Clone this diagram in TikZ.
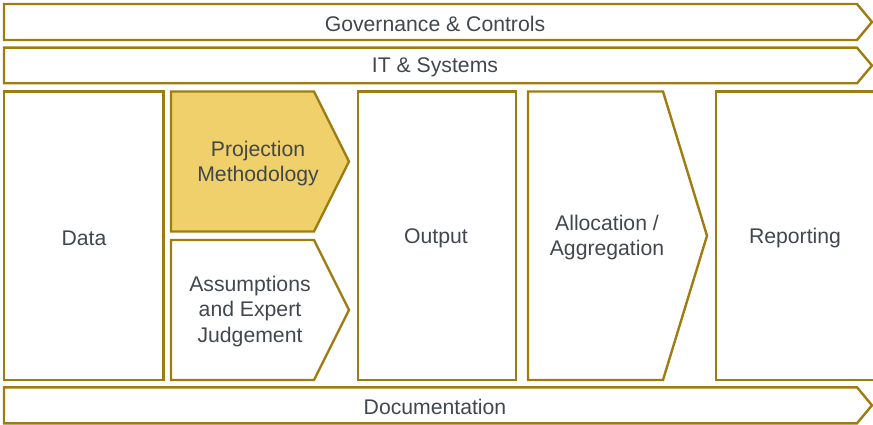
\documentclass[tikz,border=0pt]{standalone}
\usepackage{fontspec}
\setmainfont{Liberation Sans}
\definecolor{gold}{HTML}{9E7C12}
\definecolor{goldfill}{HTML}{F0D06B}
\definecolor{txt}{HTML}{41474D}
\begin{document}
\begin{tikzpicture}[x=1pt,y=1pt,
  box/.style={draw=gold,line width=2.4pt,line join=miter},
  lbl/.style={text=txt,font=\fontsize{21.2}{25.5}\selectfont,align=center,inner sep=0pt}]
\useasboundingbox (0,0) rectangle (873,-425);
% bars
\draw[box] (4,-4) -- (857,-4) -- (872,-22) -- (857,-40) -- (4,-40) -- cycle;
\draw[box] (4,-47.7) -- (857,-47.7) -- (872,-65.5) -- (857,-83.3) -- (4,-83.3) -- cycle;
\draw[box] (4,-387.3) -- (857,-387.3) -- (872,-405.3) -- (857,-423.3) -- (4,-423.3) -- cycle;
% columns
\draw[box] (4,-91.5) rectangle (163.5,-380);
\draw[box,fill=goldfill] (171,-91.5) -- (314,-91.5) -- (349,-161.5) -- (314,-231.5) -- (171,-231.5) -- cycle;
\draw[box] (171,-240) -- (314,-240) -- (349,-310) -- (314,-380) -- (171,-380) -- cycle;
\draw[box] (358,-91.5) rectangle (515.7,-380);
\draw[box] (528,-91.5) -- (663,-91.5) -- (707,-235.7) -- (663,-380) -- (528,-380) -- cycle;
\draw[box] (716,-91.5) rectangle (885,-380);
% labels
\node[lbl] (gov) at (435,-23.5) {Governance \& Controls};
\node[lbl] (it) at (435,-67.5) {IT \& Systems};
\node[lbl] (doc) at (435,-407) {Documentation};
\node[lbl] (data) at (84,-238) {Data};
\node[lbl] (proj) at (258,-163.5) {Projection\\Methodology};
\node[lbl] (assm) at (250,-311.5) {Assumptions\\and Expert\\Judgement};
\node[lbl] (out) at (436,-238) {Output};
\node[lbl] (alloc) at (607,-237.5) {Allocation /\\Aggregation};
\node[lbl] (rep) at (795,-238) {Reporting};
\end{tikzpicture}
\end{document}
